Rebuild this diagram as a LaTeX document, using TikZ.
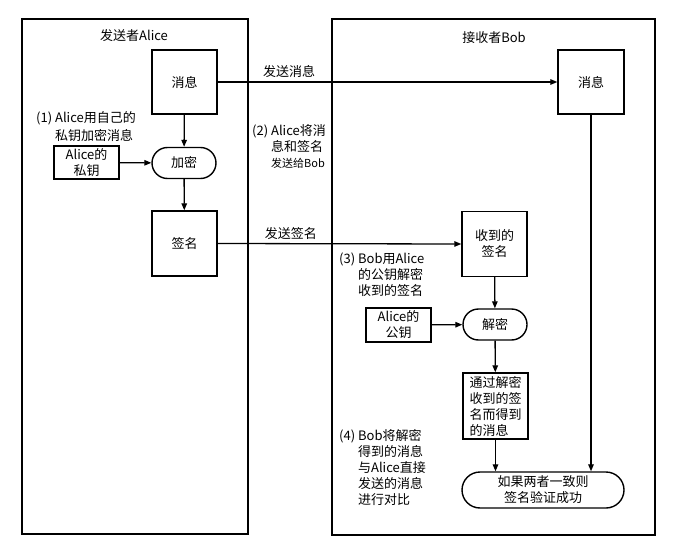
\documentclass[tikz,border=0pt]{standalone}
\usepackage{fontspec}
\setmainfont{Noto Sans CJK SC}
\usetikzlibrary{arrows.meta,shapes.misc}
\begin{document}
\begin{tikzpicture}[x=1pt,y=-1pt,
  txt/.style={font=\fontsize{13}{16}\selectfont},
  frame/.style={draw,line width=1.4pt},
  box/.style={draw,line width=1.4pt,inner sep=0pt,align=center,txt},
  pill/.style={draw,line width=1.4pt,rounded rectangle,inner sep=0pt,align=center,txt},
  arr/.style={line width=1.3pt,-{Triangle[length=7pt,width=5.5pt]}},
  note/.style={inner sep=0pt,align=left,anchor=base west,txt}]
\useasboundingbox (0,0) rectangle (678,546);
\fill[white] (0,0) rectangle (678,546);
% frames
\draw[frame] (22,19) rectangle (248,534);
\draw[frame] (332,19) rectangle (655,535);
\node[txt] (tA) at (134,36) {发送者Alice};
\node[txt] (tB) at (494,38) {接收者Bob};
% sender
\node[box,minimum width=65pt,minimum height=64pt] (mL) at (184.5,82) {消息};
\node[pill,minimum width=64pt,minimum height=31pt] (enc) at (184,163) {加密};
\node[box,minimum width=65pt,minimum height=33pt] (priv) at (86.5,162.5) {Alice的\\私钥};
\node[box,minimum width=65pt,minimum height=65pt] (sigL) at (184.5,243.5) {签名};
% receiver
\node[box,minimum width=66pt,minimum height=64pt] (mR) at (591,82) {消息};
\node[box,minimum width=65pt,minimum height=65pt] (sigR) at (494.5,244) {收到的\\签名};
\node[pill,minimum width=64pt,minimum height=31pt] (dec) at (495,324.5) {解密};
\node[box,minimum width=65pt,minimum height=34pt] (pub) at (398.5,325) {Alice的\\公钥};
\node[box,minimum width=65pt,minimum height=66pt,align=left] (res) at (495.5,406) {通过解密\\收到的签\\名而得到\\的消息};
\node[pill,minimum width=162pt,minimum height=36pt] (cmp) at (543,490) {如果两者一致则\\签名验证成功};
% connectors
\draw[arr] (mL) -- (enc);
\draw[arr] (enc) -- (sigL);
\draw[arr] (priv) -- (enc);
\draw[arr] (mL.east) -- node[txt,above,pos=0.21] {发送消息} (mR.west);
\draw[arr] (sigL.east) -- node[txt,above,pos=0.3] {发送签名} (sigR.west);
\draw[arr] (sigR) -- (dec);
\draw[arr] (pub) -- (dec);
\draw[arr] (dec) -- (res);
\draw[arr] (res.south) -- (res.south |- cmp.north);
\draw[arr] (mR.south) -- (mR.south |- cmp.north);
% notes (anchor = baseline of last line)
\node[note,font=\fontsize{13}{18}\selectfont] (n1) at (36,140) {(1) Alice用自己的\\\phantom{(1) }私钥加密消息};
\node[note] (n2) at (252,167) {(2) Alice将消\\\phantom{(2) }息和签名\\\phantom{(2) }{\fontsize{11}{16}\selectfont 发送给Bob}};
\node[note] (n3) at (339,295) {(3) Bob用Alice\\\phantom{(3) }的公钥解密\\\phantom{(3) }收到的签名};
\node[note] (n4) at (339,504) {(4) Bob将解密\\\phantom{(4) }得到的消息\\\phantom{(4) }与Alice直接\\\phantom{(4) }发送的消息\\\phantom{(4) }进行对比};
\end{tikzpicture}
\end{document}
